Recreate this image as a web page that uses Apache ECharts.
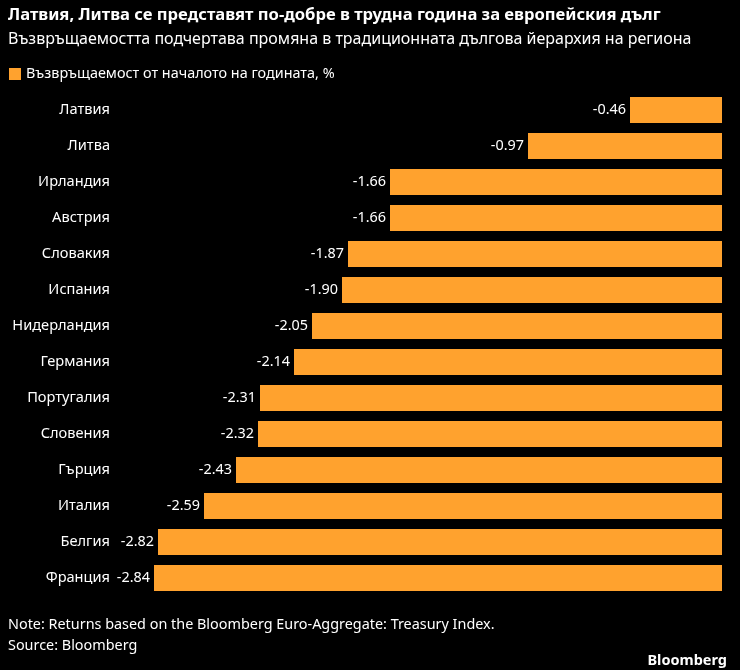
<!DOCTYPE html>
<html>
<head>
<meta charset="utf-8">
<script src="https://cdn.jsdelivr.net/npm/echarts@6/dist/echarts.min.js"></script>
<style>
  * { margin: 0; padding: 0; }
  body { background: #000; }
  #chart { width: 740px; height: 670px; }
</style>
</head>
<body>
<div id="chart"></div>
<script>
// данни
const countries = ['Латвия', 'Литва', 'Ирландия', 'Австрия', 'Словакия', 'Испания', 'Нидерландия',
  'Германия', 'Португалия', 'Словения', 'Гърция', 'Италия', 'Белгия', 'Франция'];
const returns = [-0.46, -0.97, -1.66, -1.66, -1.87, -1.90, -2.05, -2.14, -2.31, -2.32, -2.43, -2.59, -2.82, -2.84];

const font = '"Noto Sans", sans-serif';
const chart = echarts.init(document.getElementById('chart'));

chart.setOption({
  backgroundColor: '#000',
  textStyle: { fontFamily: font },
  title: [
    { text: 'Латвия, Литва се представят по-добре в трудна година за европейския дълг',
      left: 3, top: 2, textStyle: { color: '#fff', fontSize: 16.6, fontWeight: 'bold', fontFamily: font } },
    { text: 'Възвръщаемостта подчертава промяна в традиционната дългова йерархия на региона',
      left: 3, top: 26, textStyle: { color: '#fff', fontSize: 16, fontWeight: 'normal', fontFamily: font } },
    { text: 'Note: Returns based on the Bloomberg Euro-Aggregate: Treasury Index.\nSource: Bloomberg',
      left: 3, top: 609, textStyle: { color: '#fff', fontSize: 14.4, fontWeight: 'normal', lineHeight: 21, fontFamily: font } },
    { text: 'Bloomberg', right: 8, top: 648,
      textStyle: { color: '#fff', fontSize: 14.5, fontWeight: 'bold', fontFamily: font } }
  ],
  legend: {
    left: 4, top: 62, icon: 'rect', itemWidth: 12, itemHeight: 12,
    textStyle: { color: '#fff', fontSize: 14.4 },
    data: ['Възвръщаемост от началото на годината, %']
  },
  grid: { left: 122, right: 18, top: 92, bottom: 74 },
  xAxis: { type: 'value', min: -3, max: 0, show: false },
  yAxis: {
    type: 'category', data: countries, inverse: true,
    axisLine: { show: false }, axisTick: { show: false },
    axisLabel: { color: '#fff', fontSize: 14.6, margin: 12 }
  },
  series: [{
    name: 'Възвръщаемост от началото на годината, %',
    type: 'bar', data: returns, barWidth: '72%',
    itemStyle: { color: '#ffa22e' },
    label: { show: true, position: 'left', color: '#fff', fontSize: 14.4, distance: 4,
      formatter: p => p.value.toFixed(2) }
  }]
});
</script>
</body>
</html>
